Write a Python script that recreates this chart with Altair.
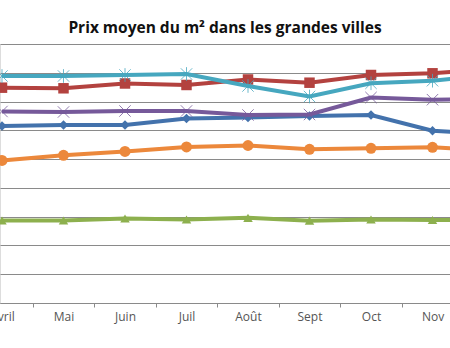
import altair as alt
import pandas as pd

months = ["Avril", "Mai", "Juin", "Juil", "Août", "Sept", "Oct", "Nov", "Déc"]

series_names = ["Série 1", "Série 2", "Série 3", "Série 4", "Série 5", "Série 6"]
s1_blue = [6151, 6186, 6186, 6411, 6446, 6498, 6533, 5987, 5870]
s2_red = [7482, 7461, 7628, 7576, 7767, 7655, 7923, 7982, 8150]
s3_green = [2867, 2867, 2936, 2902, 2961, 2860, 2902, 2884, 2884]
s4_purple = [6655, 6637, 6672, 6672, 6533, 6550, 7141, 7065, 7090]
s5_teal = [7888, 7888, 7923, 7958, 7541, 7176, 7635, 7725, 7930]
s6_orange = [4952, 5133, 5265, 5421, 5473, 5341, 5376, 5410, 5292]

all_values = [s1_blue, s2_red, s3_green, s4_purple, s5_teal, s6_orange]
colors = ["#4372AC", "#B3423F", "#8DB04E", "#76599A", "#46A7BF", "#EC883B"]

X_PATH = "M-1,-1L1,1M-1,1L1,-1"
STAR_PATH = "M-1,-1L1,1M-1,1L1,-1M0,-1.2L0,1.2"
markers = [
    dict(shape="diamond", filled=True, size=90),
    dict(shape="square", filled=True, size=110),
    dict(shape="triangle-up", filled=True, size=90),
    dict(shape=X_PATH, filled=False, size=130, strokeWidth=0.8),
    dict(shape=STAR_PATH, filled=False, size=130, strokeWidth=0.8),
    dict(shape="circle", filled=True, size=120),
]

xscale = alt.Scale(domain=[-0.0325, 7.2845], nice=False, zero=False)
yscale = alt.Scale(domain=[0, 9000], nice=False)

xaxis = alt.Axis(
    values=list(range(len(months) - 1)),
    labelExpr="['Avril','Mai','Juin','Juil','Août','Sept','Oct','Nov','Déc'][round(datum.value)]",
    tickOffset=30.75, labelOffset=-30.75, labelFlush=False, labelOverlap=False,
    title=None, grid=False, domainColor="#8a8a8a", tickColor="#8a8a8a",
    tickSize=4, labelColor="#555555", labelFont="Open Sans", labelFontSize=12,
    labelPadding=4,
)
yaxis = alt.Axis(values=list(range(0, 9001, 1000)), labels=False, ticks=False,
                 domain=False, title=None, grid=True, gridColor="#8a8a8a", gridWidth=1)

layers = []
for i, (name, vals) in enumerate(zip(series_names, all_values)):
    df = pd.DataFrame({"idx": list(range(len(months))), "mois": months,
                       "prix": vals, "serie": name})
    base = alt.Chart(df)
    enc_x = alt.X("idx:Q", scale=xscale, axis=xaxis)
    enc_y = alt.Y("prix:Q", scale=yscale, axis=yaxis)
    line = base.mark_line(color=colors[i], strokeWidth=4, clip=True).encode(x=enc_x, y=enc_y)
    m = markers[i]
    pt = base.mark_point(color=colors[i], opacity=1, clip=True, **m).encode(x=enc_x, y=enc_y)
    layers += [line, pt]

chart = alt.layer(*layers).properties(
    width=450, height=259,
    title=alt.TitleParams("Prix moyen du m² dans les grandes villes", font="Open Sans",
                          fontSize=15.5, fontWeight="bold", color="#111111",
                          anchor="middle", offset=8),
    autosize=alt.AutoSizeParams(type="none"),
    padding={"left": 0, "top": 44, "right": 0, "bottom": 45},
).configure_view(stroke=None).configure(background="white")

chart.save("out.html", embed_options={"renderer": "svg", "actions": False})
